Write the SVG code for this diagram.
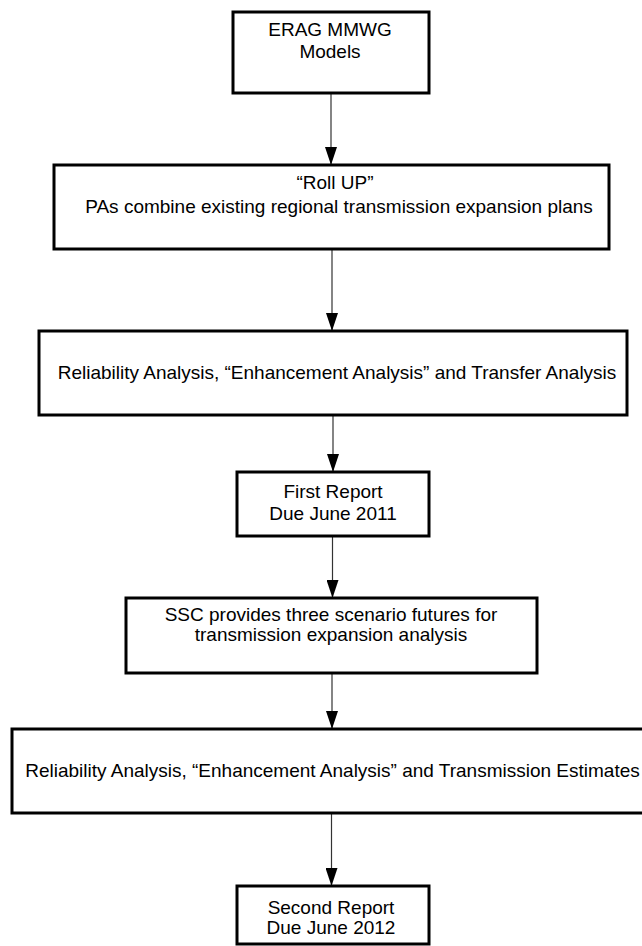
<svg xmlns="http://www.w3.org/2000/svg" width="642" height="946" viewBox="0 0 642 946">
<style>
.box{fill:#fff;stroke:#000;stroke-width:3}
.t{font-family:"Liberation Sans",Arial,sans-serif;font-size:19px;fill:#000;text-anchor:middle}
.c{stroke:#333;stroke-width:1.2;fill:none;marker-end:url(#arr)}
</style>
<defs>
<marker id="arr" viewBox="0 0 18 12" refX="18" refY="6" markerWidth="18" markerHeight="12" markerUnits="userSpaceOnUse" orient="auto">
<path d="M0,0 L18,6 L0,12 z" fill="#000"/>
</marker>
</defs>
<rect width="642" height="946" fill="#fff"/>
<g id="connectors">
<line class="c" x1="331" y1="93" x2="331" y2="165"/>
<line class="c" x1="332" y1="249" x2="332" y2="331"/>
<line class="c" x1="333" y1="415" x2="333" y2="472"/>
<line class="c" x1="332.5" y1="536" x2="332.5" y2="598"/>
<line class="c" x1="332" y1="673" x2="332" y2="729"/>
<line class="c" x1="331.5" y1="813" x2="331.5" y2="886"/>
</g>
<g id="n1">
<rect class="box" x="233" y="12" width="196" height="81"/>
<text class="t" x="330" y="36">ERAG MMWG</text>
<text class="t" x="330" y="57.5">Models</text>
</g>
<g id="n2">
<rect class="box" x="54" y="165" width="555" height="84"/>
<text class="t" x="335" y="189">“Roll UP”</text>
<text class="t" x="339" y="213">PAs combine existing regional transmission expansion plans</text>
</g>
<g id="n3">
<rect class="box" x="39" y="331" width="588" height="84"/>
<text class="t" x="337" y="379">Reliability Analysis, “Enhancement Analysis” and Transfer Analysis</text>
</g>
<g id="n4">
<rect class="box" x="237" y="472" width="192" height="64"/>
<text class="t" x="333" y="498">First Report</text>
<text class="t" x="333" y="520">Due June 2011</text>
</g>
<g id="n5">
<rect class="box" x="126" y="598" width="411" height="75"/>
<text class="t" x="331" y="620.5">SSC provides three scenario futures for</text>
<text class="t" x="331" y="641">transmission expansion analysis</text>
</g>
<g id="n6">
<rect class="box" x="12" y="729" width="650" height="84"/>
<text class="t" x="332.5" y="777">Reliability Analysis, “Enhancement Analysis” and Transmission Estimates</text>
</g>
<g id="n7">
<rect class="box" x="237" y="886" width="192" height="58"/>
<text class="t" x="331" y="914">Second Report</text>
<text class="t" x="331" y="934">Due June 2012</text>
</g>
</svg>
